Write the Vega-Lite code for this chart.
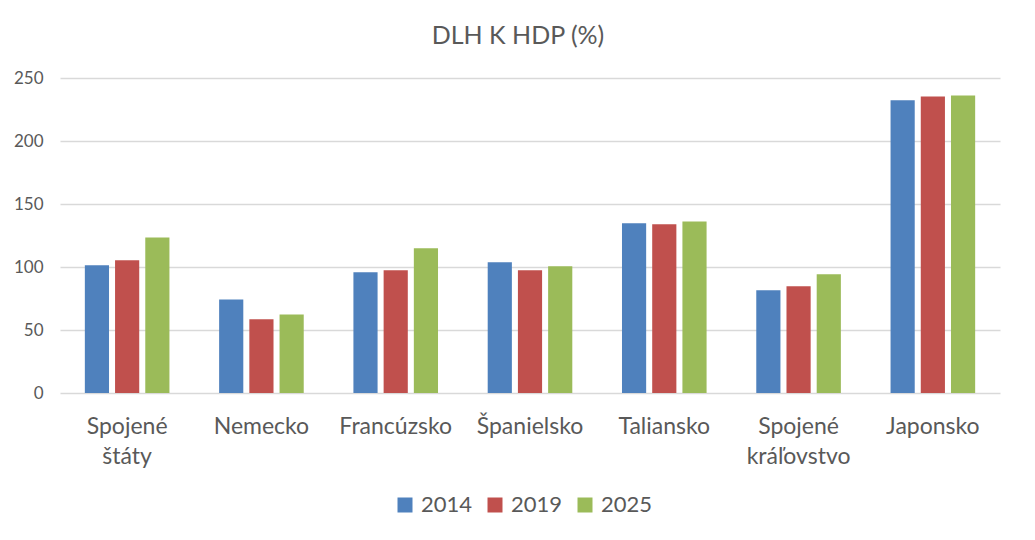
{
  "$schema": "https://vega.github.io/schema/vega-lite/v6.json",
  "description": "DLH K HDP (%)",
  "width": 940,
  "height": 315,
  "autosize": "none",
  "padding": {"left": 60, "top": 78, "right": 35, "bottom": 147},
  "background": "white",
  "title": {
    "text": "DLH K HDP (%)",
    "font": "Lato",
    "fontSize": 25,
    "fontWeight": "normal",
    "color": "#595959",
    "anchor": "middle",
    "frame": "group",
    "dx": -12,
    "offset": 20
  },
  "data": {
    "values": [
      {"krajina": "Spojené štáty", "rok": "2014", "dlh": 101.3},
      {"krajina": "Spojené štáty", "rok": "2019", "dlh": 105.3},
      {"krajina": "Spojené štáty", "rok": "2025", "dlh": 123.5},
      {"krajina": "Nemecko", "rok": "2014", "dlh": 74.3},
      {"krajina": "Nemecko", "rok": "2019", "dlh": 58.5},
      {"krajina": "Nemecko", "rok": "2025", "dlh": 62.4},
      {"krajina": "Francúzsko", "rok": "2014", "dlh": 95.8},
      {"krajina": "Francúzsko", "rok": "2019", "dlh": 97.4},
      {"krajina": "Francúzsko", "rok": "2025", "dlh": 114.8},
      {"krajina": "Španielsko", "rok": "2014", "dlh": 103.7},
      {"krajina": "Španielsko", "rok": "2019", "dlh": 97.4},
      {"krajina": "Španielsko", "rok": "2025", "dlh": 100.5},
      {"krajina": "Taliansko", "rok": "2014", "dlh": 134.7},
      {"krajina": "Taliansko", "rok": "2019", "dlh": 133.9},
      {"krajina": "Taliansko", "rok": "2025", "dlh": 136.2},
      {"krajina": "Spojené kráľovstvo", "rok": "2014", "dlh": 81.5},
      {"krajina": "Spojené kráľovstvo", "rok": "2019", "dlh": 84.7},
      {"krajina": "Spojené kráľovstvo", "rok": "2025", "dlh": 94.2},
      {"krajina": "Japonsko", "rok": "2014", "dlh": 232.3},
      {"krajina": "Japonsko", "rok": "2019", "dlh": 235.4},
      {"krajina": "Japonsko", "rok": "2025", "dlh": 236.2}
    ]
  },
  "mark": {"type": "bar"},
  "encoding": {
    "x": {
      "field": "krajina",
      "type": "nominal",
      "sort": null,
      "scale": {"paddingInner": 0.37, "paddingOuter": 0.185},
      "axis": {
        "title": null,
        "domain": false,
        "ticks": false,
        "labelAngle": 0,
        "labelFont": "Lato",
        "labelFontSize": 23,
        "labelColor": "#595959",
        "labelPadding": 22,
        "labelLineHeight": 30,
        "labelExpr": "split(datum.label, ' ')"
      }
    },
    "xOffset": {
      "field": "rok",
      "type": "nominal",
      "scale": {"paddingInner": 0.2, "paddingOuter": 0}
    },
    "y": {
      "field": "dlh",
      "type": "quantitative",
      "scale": {"domain": [0, 250]},
      "axis": {
        "title": null,
        "values": [0, 50, 100, 150, 200, 250],
        "domain": false,
        "ticks": false,
        "labelFont": "Lato",
        "labelFontSize": 17,
        "labelColor": "#595959",
        "labelPadding": 17,
        "gridColor": "#d9d9d9",
        "gridWidth": 1.3
      }
    },
    "color": {
      "field": "rok",
      "type": "nominal",
      "scale": {"domain": ["2014", "2019", "2025"], "range": ["#4f81bd", "#c0504d", "#9bbb59"]},
      "legend": {
        "title": null,
        "orient": "none",
        "legendX": 334,
        "legendY": 416,
        "direction": "horizontal",
        "symbolType": "square",
        "symbolSize": 225,
        "symbolStrokeWidth": 0,
        "labelFont": "Lato",
        "labelFontSize": 22,
        "labelColor": "#595959",
        "labelOffset": 5,
        "columnPadding": 11
      }
    }
  },
  "config": {"view": {"stroke": null}}
}
